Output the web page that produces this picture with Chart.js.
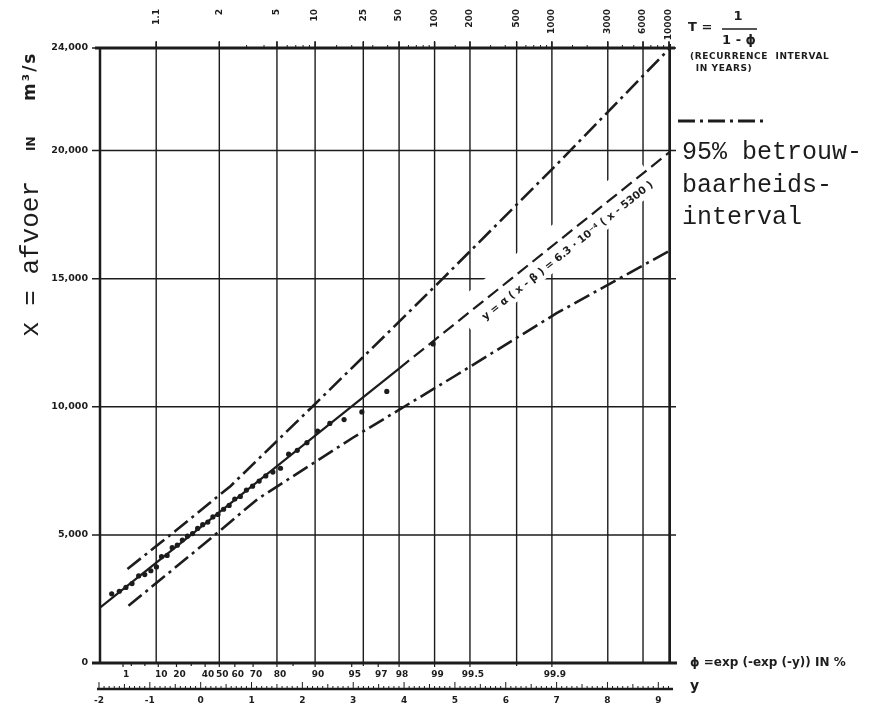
<!DOCTYPE html>
<html>
<head>
<meta charset="utf-8">
<script src="https://cdn.jsdelivr.net/npm/chart.js@4.4.0/dist/chart.umd.min.js"></script>
<style>
  html, body { margin: 0; padding: 0; background: #fff; }
  #wrap { width: 872px; height: 706px; position: relative; }
</style>
</head>
<body>
<div id="wrap"><canvas id="gumbelChart" width="872" height="706"></canvas></div>
<script>
// annual maxima: reduced variate y and discharge x (m3/s)
const obsY = [-1.75, -1.6, -1.47, -1.35, -1.22, -1.1, -0.98, -0.87, -0.77, -0.66, -0.56, -0.46, -0.36, -0.26,
              -0.16, -0.06, 0.04, 0.14, 0.24, 0.34, 0.45, 0.56, 0.67, 0.78, 0.9, 1.02, 1.15, 1.28, 1.42, 1.57,
              1.73, 1.9, 2.09, 2.3, 2.54, 2.82, 3.17, 3.66, 4.57];
const obsQ = [2700, 2800, 2950, 3100, 3400, 3450, 3600, 3750, 4150, 4200, 4500, 4600, 4800, 4950,
              5050, 5250, 5400, 5500, 5700, 5800, 6000, 6150, 6400, 6500, 6750, 6900, 7100, 7300, 7450, 7600,
              8150, 8300, 8600, 9050, 9350, 9500, 9800, 10600, 12450];

// fitted line (solid over the data, dashed beyond)
const fitSolidY = [-1.98, 3.9];
const fitSolidQ = [2160, 11490];
const fitDashY = [3.9, 9.23];
const fitDashQ = [11490, 19950];

// 95% confidence band
const upperY = [-1.44, -0.5, 0.59, 2.22, 3.74, 4.76, 7.0, 9.23];
const upperQ = [3670, 5150, 6910, 10050, 13000, 15000, 19450, 24000];
const lowerY = [-1.42, 0.1, 1.12, 3.0, 5.0, 7.0, 9.23];
const lowerQ = [2230, 4700, 6400, 8800, 11200, 13650, 16100];

// axes
const qTicks = [0, 5000, 10000, 15000, 20000, 24000];
const qLabels = ['0', '5,000', '10,000', '15,000', '20,000', '24,000'];
const tValues = [1.1, 2, 5, 10, 25, 50, 100, 200, 500, 1000, 3000, 6000, 10000];
const tLabels = ['1.1', '2', '5', '10', '25', '50', '100', '200', '500', '1000', '3000', '6000', '10000'];
const tMinor = [3, 4, 6, 7, 8, 9, 15, 20, 30, 40, 60, 70, 80, 90, 150, 300, 400, 600, 700, 800, 900,
                1500, 2000, 4000, 5000, 7000, 8000, 9000];
const phiValues = [1, 10, 20, 40, 50, 60, 70, 80, 90, 95, 97, 98, 99, 99.5, 99.9];
const phiLabels = ['1', '10', '20', '40', '50', '60', '70', '80', '90', '95', '97', '98', '99', '99.5', '99.9'];
const phiMinor = [2, 5, 30, 85, 96, 99.8];
const yLabels = [-2, -1, 0, 1, 2, 3, 4, 5, 6, 7, 8, 9];

const ink = '#1c1c1c';
const bandDash = [17, 5, 3, 5];

// gumbel reduced variate for a non-exceedance probability
const redVar = p => -Math.log(-Math.log(p));
const tToY = T => redVar(1 - 1 / T);

function pts(xs, ys) {
    return xs.map((v, i) => ({ x: v, y: ys[i] }));
}

function seg(ctx, x1, y1, x2, y2) {
    ctx.beginPath();
    ctx.moveTo(x1, y1);
    ctx.lineTo(x2, y2);
    ctx.stroke();
}

const paperPlugin = {
    id: 'paper',
    beforeDatasetsDraw(chart) {
        const { ctx, chartArea: a, scales: { x, y } } = chart;
        ctx.save();
        ctx.strokeStyle = ink;

        // horizontal grid
        ctx.lineWidth = 1.5;
        qTicks.forEach(q => {
            const py = y.getPixelForValue(q);
            seg(ctx, a.left - 8, py, a.right + 6, py);
        });
        // vertical grid at the recurrence intervals
        ctx.lineWidth = 1.4;
        tValues.forEach(T => {
            const px = x.getPixelForValue(tToY(T));
            seg(ctx, px, a.top - 6, px, a.bottom);
        });

        // white patch behind the equation text
        const p1 = { x: x.getPixelForValue(fitDashY[0]), y: y.getPixelForValue(fitDashQ[0]) };
        const p2 = { x: x.getPixelForValue(fitDashY[1]), y: y.getPixelForValue(fitDashQ[1]) };
        const ang = Math.atan2(p2.y - p1.y, p2.x - p1.x);
        const cx = x.getPixelForValue(7.22), cy = y.getPixelForValue(16080);
        ctx.translate(cx, cy);
        ctx.rotate(ang);
        ctx.fillStyle = '#fff';
        ctx.fillRect(-125, -30, 237, 38);
        ctx.restore();
    },
    afterDatasetsDraw(chart) {
        const { ctx, chartArea: a, scales: { x, y } } = chart;
        ctx.save();
        ctx.strokeStyle = ink;
        ctx.fillStyle = ink;

        // frame
        ctx.lineWidth = 3;
        seg(ctx, a.left - 5, a.top, a.right + 5, a.top);
        seg(ctx, a.left - 8, a.bottom, a.right + 7, a.bottom);
        ctx.lineWidth = 2.5;
        seg(ctx, a.left, a.top, a.left, a.bottom);
        ctx.lineWidth = 2;
        seg(ctx, a.right, a.top - 4, a.right, a.bottom);

        // equation along the fitted line
        const p1 = { x: x.getPixelForValue(fitDashY[0]), y: y.getPixelForValue(fitDashQ[0]) };
        const p2 = { x: x.getPixelForValue(fitDashY[1]), y: y.getPixelForValue(fitDashQ[1]) };
        const ang = Math.atan2(p2.y - p1.y, p2.x - p1.x);
        ctx.save();
        ctx.translate(x.getPixelForValue(7.22), y.getPixelForValue(16080));
        ctx.rotate(ang);
        ctx.font = 'bold 10.5px "DejaVu Sans"';
        ctx.textAlign = 'center';
        ctx.textBaseline = 'middle';
        ctx.fillText('y = α ( x - β ) = 6.3 · 10⁻⁴ ( x - 5300 )', 0, 0);
        ctx.restore();

        // left tick labels
        ctx.font = 'bold 9.5px "DejaVu Sans"';
        ctx.textAlign = 'right';
        ctx.textBaseline = 'middle';
        qTicks.forEach((q, i) => {
            ctx.fillText(qLabels[i], a.left - 12, y.getPixelForValue(q));
        });

        // top axis: recurrence interval T
        ctx.font = 'bold 9px "DejaVu Sans"';
        ctx.lineWidth = 1.3;
        tValues.forEach((T, i) => {
            const px = x.getPixelForValue(tToY(T));
            seg(ctx, px, a.top - 7, px, a.top);
            ctx.save();
            ctx.translate(px, 9);
            ctx.rotate(-Math.PI / 2);
            ctx.textAlign = 'right';
            ctx.textBaseline = 'middle';
            ctx.fillText(tLabels[i], 0, 0);
            ctx.restore();
        });
        ctx.lineWidth = 1;
        tMinor.forEach(T => {
            const px = x.getPixelForValue(tToY(T));
            seg(ctx, px, a.top - 3, px, a.top);
        });

        // bottom axis: phi in %
        ctx.textAlign = 'center';
        ctx.textBaseline = 'middle';
        ctx.lineWidth = 1.2;
        phiValues.forEach((p, i) => {
            const px = x.getPixelForValue(redVar(p / 100));
            seg(ctx, px, a.bottom, px, a.bottom + 4);
            ctx.fillText(phiLabels[i], px + 3, a.bottom + 12);
        });
        phiMinor.forEach(p => {
            const px = x.getPixelForValue(redVar(p / 100));
            seg(ctx, px, a.bottom, px, a.bottom + 3);
        });

        // reduced variate axis y
        const ry = a.bottom + 26;
        ctx.lineWidth = 2.5;
        seg(ctx, x.getPixelForValue(-2.0) - 2, ry, a.right + 3, ry);
        ctx.lineWidth = 1;
        for (let k = -20; k <= 92; k++) {
            const px = x.getPixelForValue(k / 10);
            const len = k % 10 === 0 ? 7 : (k % 5 === 0 ? 5 : 3);
            seg(ctx, px, ry, px, ry - len);
        }
        yLabels.forEach(v => {
            ctx.fillText(String(v), x.getPixelForValue(v), ry + 12);
        });

        // right-hand notes
        ctx.textAlign = 'left';
        ctx.font = 'bold 13px "DejaVu Sans"';
        ctx.fillText('T =', 688, 28);
        ctx.textAlign = 'center';
        ctx.fillText('1', 738, 17);
        ctx.fillText('1 - ϕ', 739, 41);
        ctx.lineWidth = 1.5;
        seg(ctx, 722, 29, 757, 29);
        ctx.textAlign = 'left';
        ctx.font = 'bold 9px "DejaVu Sans"';
        ctx.letterSpacing = '0.6px';
        ctx.fillText('(RECURRENCE  INTERVAL', 690, 57);
        ctx.fillText(' IN YEARS)', 692, 69);
        ctx.letterSpacing = '0px';

        ctx.lineWidth = 3;
        ctx.setLineDash(bandDash);
        seg(ctx, 678, 121, 766, 121);
        ctx.setLineDash([]);

        ctx.font = '25px "Liberation Mono"';
        ctx.fillText('95% betrouw-', 682, 152);
        ctx.fillText('baarheids-', 682, 185);
        ctx.fillText('interval', 682, 217);

        ctx.font = 'bold 12px "DejaVu Sans"';
        ctx.fillText('ϕ =exp (-exp (-y)) IN %', 690, 663);
        ctx.font = 'bold 14px "DejaVu Sans"';
        ctx.fillText('y', 690, 686);

        // y axis title
        ctx.save();
        ctx.translate(31, 337);
        ctx.rotate(-Math.PI / 2);
        ctx.textAlign = 'left';
        ctx.textBaseline = 'middle';
        ctx.font = '26px "Liberation Mono"';
        ctx.fillText('x = afvoer', 0, 0);
        ctx.font = 'bold 12px "DejaVu Sans"';
        ctx.fillText('IN', 186, 1);
        ctx.font = 'bold 17px "DejaVu Sans"';
        ctx.letterSpacing = '2px';
        ctx.fillText('m³/s', 236, 0);
        ctx.restore();

        ctx.restore();
    }
};

const lineStyle = { showLine: true, pointRadius: 0, fill: false, tension: 0, borderColor: ink };

new Chart(document.getElementById('gumbelChart'), {
    type: 'scatter',
    data: {
        datasets: [
            { ...lineStyle, label: 'upper', data: pts(upperY, upperQ), borderWidth: 2.6, borderDash: bandDash },
            { ...lineStyle, label: 'lower', data: pts(lowerY, lowerQ), borderWidth: 2.6, borderDash: bandDash },
            { ...lineStyle, label: 'fit', data: pts(fitSolidY, fitSolidQ), borderWidth: 2.2 },
            { ...lineStyle, label: 'fit extrapolated', data: pts(fitDashY, fitDashQ), borderWidth: 2.2, borderDash: [13, 6] },
            {
                label: 'observed',
                data: pts(obsY, obsQ),
                showLine: false,
                pointRadius: 2.6,
                pointBackgroundColor: ink,
                pointBorderWidth: 0
            }
        ]
    },
    options: {
        responsive: false,
        animation: false,
        layout: { padding: { left: 100, right: 202, top: 48, bottom: 43 } },
        scales: {
            x: { type: 'linear', min: -1.98, max: 9.23, display: false },
            y: { type: 'linear', min: 0, max: 24000, display: false }
        },
        plugins: { legend: { display: false }, tooltip: { enabled: false } }
    },
    plugins: [paperPlugin]
});
</script>
</body>
</html>
